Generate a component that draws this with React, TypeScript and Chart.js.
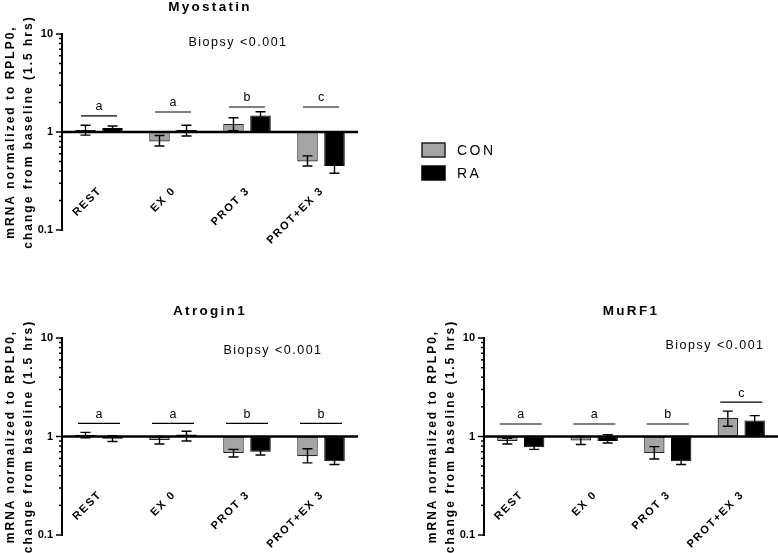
import React, { useEffect, useRef } from 'react';
import { Chart, registerables } from 'chart.js';

Chart.register(...registerables);

const categories = ['REST', 'EX 0', 'PROT 3', 'PROT+EX 3'];
const seriesNames = ['CON', 'RA'];
const yTickLabels = ['0.1', '1', '10'];
const yTitleLines = ['mRNA normalized to RPLP0,', 'change from baseline (1.5 hrs)'];
const biopsyText = 'Biopsy <0.001';

// Myostatin
const myoCon = [1.05, 0.8, 1.21, 0.5];
const myoConLow = [0.93, 0.72, 1.03, 0.45];
const myoConHigh = [1.17, 0.92, 1.4, 0.57];
const myoRa = [1.1, 1.05, 1.47, 0.45];
const myoRaLow = [1.0, 0.91, 1.34, 0.38];
const myoRaHigh = [1.15, 1.17, 1.61, 0.52];
const myoSigLevels = [1.46, 1.6, 1.8, 1.8];
const myoSigLetters = ['a', 'a', 'b', 'c'];

// Atrogin1
const atrCon = [1.04, 0.92, 0.68, 0.63];
const atrConLow = [0.97, 0.84, 0.62, 0.54];
const atrConHigh = [1.1, 1.0, 0.74, 0.75];
const atrRa = [0.95, 1.05, 0.7, 0.56];
const atrRaLow = [0.89, 0.9, 0.65, 0.52];
const atrRaHigh = [1.02, 1.13, 0.74, 0.6];
const atrSigLevels = [1.36, 1.36, 1.36, 1.36];
const atrSigLetters = ['a', 'a', 'b', 'b'];

// MuRF1
const murCon = [0.9, 0.91, 0.68, 1.55];
const murConLow = [0.84, 0.83, 0.59, 1.27];
const murConHigh = [0.96, 1.0, 0.79, 1.81];
const murRa = [0.78, 0.9, 0.56, 1.45];
const murRaLow = [0.74, 0.86, 0.52, 1.3];
const murRaHigh = [0.82, 1.04, 0.6, 1.63];
const murSigLevels = [1.34, 1.34, 1.34, 2.23];
const murSigLetters = ['a', 'a', 'b', 'c'];

const FONT = '"Liberation Sans", Arial, Helvetica, sans-serif';
const CON_FILL = '#a4a4a4';
const CON_BORDER = '#222222';
const RA_FILL = '#000000';

type PanelCfg = {
  title: string;
  con: number[]; conLow: number[]; conHigh: number[];
  ra: number[]; raLow: number[]; raHigh: number[];
  sigLevels: number[]; sigLetters: string[];
  left: number; top: number; width: number; height: number;
  padTop: number; padRight: number; padBottom: number; axisLeft: number;
  biopsyDx: number; biopsyDy: number; sigHalf: number; legend: boolean;
};

const panels: PanelCfg[] = [
  {
    title: 'Myostatin', con: myoCon, conLow: myoConLow, conHigh: myoConHigh,
    ra: myoRa, raLow: myoRaLow, raHigh: myoRaHigh, sigLevels: myoSigLevels, sigLetters: myoSigLetters,
    left: 0, top: 0, width: 778, height: 270, padTop: 34, padRight: 420, padBottom: 40, axisLeft: 62,
    biopsyDx: 176, biopsyDy: 9, sigHalf: 18, legend: true,
  },
  {
    title: 'Atrogin1', con: atrCon, conLow: atrConLow, conHigh: atrConHigh,
    ra: atrRa, raLow: atrRaLow, raHigh: atrRaHigh, sigLevels: atrSigLevels, sigLetters: atrSigLetters,
    left: 0, top: 270, width: 390, height: 283, padTop: 68, padRight: 32, padBottom: 18, axisLeft: 62,
    biopsyDx: 211, biopsyDy: 13, sigHalf: 21, legend: false,
  },
  {
    title: 'MuRF1', con: murCon, conLow: murConLow, conHigh: murConHigh,
    ra: murRa, raLow: murRaLow, raHigh: murRaHigh, sigLevels: murSigLevels, sigLetters: murSigLetters,
    left: 390, top: 270, width: 388, height: 283, padTop: 68, padRight: 0, padBottom: 18, axisLeft: 94,
    biopsyDx: 231, biopsyDy: 8, sigHalf: 21, legend: false,
  },
];

function makeDecor(cfg: PanelCfg) {
  return {
    id: 'decor_' + cfg.title,
    afterDatasetsDraw(chart: any) {
      const ctx: CanvasRenderingContext2D = chart.ctx;
      const area = chart.chartArea;
      const ys = chart.scales.y;
      const xs = chart.scales.x;
      ctx.save();

      // error bars
      const errs = [
        [cfg.conLow, cfg.conHigh],
        [cfg.raLow, cfg.raHigh],
      ];
      ctx.strokeStyle = '#000';
      ctx.lineWidth = 1.4;
      errs.forEach((pair, di) => {
        const meta = chart.getDatasetMeta(di);
        meta.data.forEach((bar: any, j: number) => {
          const x = bar.x;
          const y1 = ys.getPixelForValue(pair[0][j]);
          const y2 = ys.getPixelForValue(pair[1][j]);
          ctx.beginPath();
          ctx.moveTo(x, y1); ctx.lineTo(x, y2);
          ctx.moveTo(x - 5, y1); ctx.lineTo(x + 5, y1);
          ctx.moveTo(x - 5, y2); ctx.lineTo(x + 5, y2);
          ctx.stroke();
        });
      });

      // baseline at 1
      const yb = ys.getPixelForValue(1);
      ctx.lineWidth = 2.4;
      ctx.beginPath();
      ctx.moveTo(area.left, yb); ctx.lineTo(area.right, yb);
      ctx.stroke();

      // y ticks
      ctx.lineWidth = 1.5;
      const tickVals: number[] = [];
      for (let d = 0.1; d <= 1.5; d *= 10) {
        for (let k = 1; k <= 9; k++) tickVals.push(Math.round(k * d * 1000) / 1000);
      }
      tickVals.push(10);
      tickVals.forEach((v) => {
        const major = v === 0.1 || v === 1 || v === 10;
        const y = ys.getPixelForValue(v);
        ctx.beginPath();
        ctx.moveTo(area.left, y);
        ctx.lineTo(area.left - (major ? 6 : 3), y);
        ctx.stroke();
      });

      // significance lines & letters
      ctx.lineWidth = 1.2;
      ctx.fillStyle = '#000';
      ctx.font = `12.5px ${FONT}`;
      ctx.textAlign = 'center';
      ctx.textBaseline = 'middle';
      cfg.sigLevels.forEach((lv, i) => {
        const cx = xs.getPixelForValue(i);
        const y = ys.getPixelForValue(lv);
        ctx.beginPath();
        ctx.moveTo(cx - cfg.sigHalf, y); ctx.lineTo(cx + cfg.sigHalf, y);
        ctx.stroke();
        ctx.fillText(cfg.sigLetters[i], cx, y - 9);
      });

      // biopsy text
      (ctx as any).letterSpacing = '1.5px';
      ctx.font = `12.5px ${FONT}`;
      ctx.fillText(biopsyText, area.left + cfg.biopsyDx, area.top + cfg.biopsyDy);

      // title
      (ctx as any).letterSpacing = '2.3px';
      ctx.font = `bold 13.5px ${FONT}`;
      ctx.fillText(cfg.title, (area.left + area.right) / 2, area.top - 27);

      // category labels
      (ctx as any).letterSpacing = '1.6px';
      ctx.font = `bold 11px ${FONT}`;
      ctx.textAlign = 'right';
      categories.forEach((c, i) => {
        const cx = xs.getPixelForValue(i);
        ctx.save();
        ctx.translate(cx + 1, area.top + 155);
        ctx.rotate(-Math.PI / 4);
        ctx.fillText(c, 0, 0);
        ctx.restore();
      });

      // y-axis title
      (ctx as any).letterSpacing = '2px';
      ctx.font = `bold 12px ${FONT}`;
      ctx.textAlign = 'center';
      const cy = (area.top + area.bottom) / 2;
      const offs = [-51, -33];
      yTitleLines.forEach((t, i) => {
        ctx.save();
        ctx.translate(area.left + offs[i], cy);
        ctx.rotate(-Math.PI / 2);
        ctx.fillText(t, 0, 0);
        ctx.restore();
      });

      // legend
      if (cfg.legend) {
        (ctx as any).letterSpacing = '2.5px';
        ctx.font = `14px ${FONT}`;
        ctx.textAlign = 'left';
        const fills = [CON_FILL, RA_FILL];
        const borders = [CON_BORDER, RA_FILL];
        seriesNames.forEach((n, i) => {
          const by = 143 + i * 23;
          ctx.fillStyle = fills[i];
          ctx.fillRect(422, by, 23, 14);
          ctx.strokeStyle = borders[i];
          ctx.lineWidth = 1.5;
          ctx.strokeRect(422, by, 23, 14);
          ctx.fillStyle = '#000';
          ctx.fillText(n, 457, by + 8);
        });
      }

      (ctx as any).letterSpacing = '0px';
      ctx.restore();
    },
  };
}

function Panel({ cfg }: { cfg: PanelCfg }) {
  const ref = useRef<HTMLCanvasElement | null>(null);
  useEffect(() => {
    if (!ref.current) return;
    const chart = new Chart(ref.current, {
      type: 'bar',
      data: {
        labels: categories,
        datasets: [
          {
            label: seriesNames[0],
            data: cfg.con.map((v) => [1, v]) as any,
            backgroundColor: CON_FILL,
            borderColor: CON_BORDER,
            borderWidth: 1.2,
            borderSkipped: false,
          },
          {
            label: seriesNames[1],
            data: cfg.ra.map((v) => [1, v]) as any,
            backgroundColor: RA_FILL,
            borderColor: RA_FILL,
            borderWidth: 1,
            borderSkipped: false,
          },
        ],
      },
      options: {
        responsive: false,
        maintainAspectRatio: false,
        animation: false,
        devicePixelRatio: 1,
        layout: { padding: { left: 0, top: cfg.padTop, right: cfg.padRight, bottom: cfg.padBottom } },
        datasets: { bar: { categoryPercentage: 0.73, barPercentage: 0.76 } },
        plugins: { legend: { display: false }, tooltip: { enabled: false }, title: { display: false } },
        scales: {
          x: { display: false },
          y: {
            type: 'logarithmic',
            min: 0.1,
            max: 10,
            afterFit: (s: any) => { s.width = cfg.axisLeft; },
            grid: { display: false, drawTicks: false },
            border: { display: true, color: '#000', width: 2 },
            ticks: {
              autoSkip: false,
              padding: 9,
              color: '#000',
              font: { family: FONT, size: 11, weight: 'bold' },
              callback: (v: any) => {
                const n = Number(v);
                if (Math.abs(n - 0.1) < 1e-6) return yTickLabels[0];
                if (Math.abs(n - 1) < 1e-6) return yTickLabels[1];
                if (Math.abs(n - 10) < 1e-6) return yTickLabels[2];
                return '';
              },
            },
          },
        },
      } as any,
      plugins: [makeDecor(cfg)],
    });
    return () => chart.destroy();
  }, [cfg]);
  return (
    <canvas
      ref={ref}
      width={cfg.width}
      height={cfg.height}
      style={{ position: 'absolute', left: cfg.left, top: cfg.top, width: cfg.width, height: cfg.height }}
    />
  );
}

export default function App() {
  return (
    <div style={{ position: 'absolute', left: 0, top: 0, width: 778, height: 553, background: '#fff', overflow: 'hidden' }}>
      {panels.map((p) => (
        <Panel key={p.title} cfg={p} />
      ))}
    </div>
  );
}
